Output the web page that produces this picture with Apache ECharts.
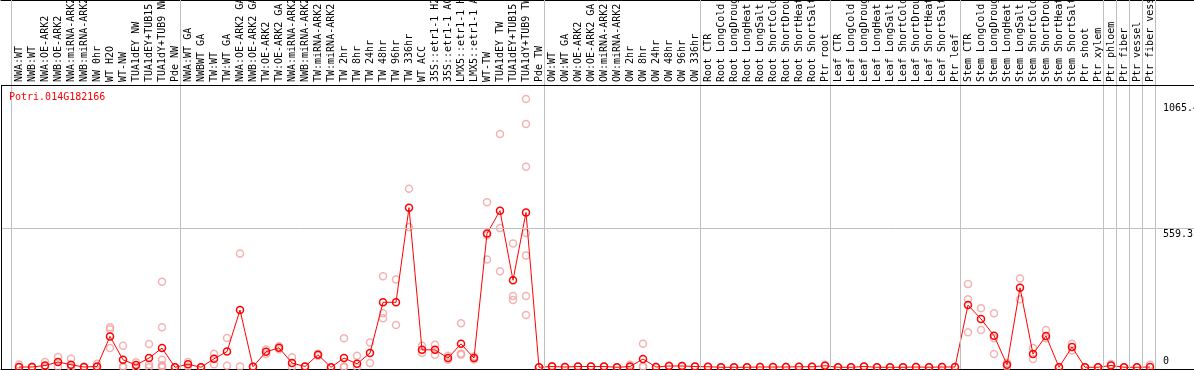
<!DOCTYPE html>
<html><head><meta charset="utf-8">
<script src="https://cdn.jsdelivr.net/npm/echarts@6/dist/echarts.min.js"></script>
<style>html,body{margin:0;padding:0;background:#fff}#c{width:1194px;height:370px}</style>
</head><body><div id="c"></div>
<script>
const geneId = 'Potri.014G182166';

const categories = [
  'NWA:WT','NWB:WT','NWA:OE-ARK2','NWB:OE-ARK2','NWA:miRNA-ARK2','NWB:miRNA-ARK2','NW 0hr','WT H2O','WT-NW',
  'TUA1dEY NW','TUA1dEY+TUB15 NW','TUA1dY+TUB9 NW','Pde NW',
  'NWA:WT GA','NWBWT GA','TW:WT','TW:WT GA','NWA:OE-ARK2 GA','NWB:OE-ARK2 GA','TW:OE-ARK2','TW:OE-ARK2 GA',
  'NWA:miRNA-ARK2 GA','NWB:miRNA-ARK2 GA','TW:miRNA-ARK2','TW:miRNA-ARK2 GA',
  'TW 2hr','TW 8hr','TW 24hr','TW 48hr','TW 96hr','TW 336hr','WT ACC',
  '35S::etr1-1 H2O','35S::etr1-1 ACC','LMX5::etr1-1 H2O','LMX5::etr1-1 ACC',
  'WT-TW','TUA1dEY TW','TUA1dEY+TUB15 TW','TUA1dY+TUB9 TW','Pde TW',
  'OW:WT','OW:WT GA','OW:OE-ARK2','OW:OE-ARK2 GA','OW:miRNA-ARK2','OW:miRNA-ARK2 GA',
  'OW 2hr','OW 8hr','OW 24hr','OW 48hr','OW 96hr','OW 336hr',
  'Root CTR','Root LongCold','Root LongDrought','Root LongHeat','Root LongSalt',
  'Root ShortCold','Root ShortDrought','Root ShortHeat','Root ShortSalt','Ptr root',
  'Leaf CTR','Leaf LongCold','Leaf LongDrought','Leaf LongHeat','Leaf LongSalt',
  'Leaf ShortCold','Leaf ShortDrought','Leaf ShortHeat','Leaf ShortSalt','Ptr leaf',
  'Stem CTR','Stem LongCold','Stem LongDrought','Stem LongHeat','Stem LongSalt',
  'Stem ShortCold','Stem ShortDrought','Stem ShortHeat','Stem ShortSalt','Ptr shoot',
  'Ptr xylem','Ptr phloem','Ptr fiber','Ptr vessel','Ptr fiber vessel'
];

const meanValues = [
  1,1,7,21,10,1,3,124,30,9,37,77,0,
  12,0,34,63,230,2,62,78,17,3,50,0,
  37,14,57,261,261,641,70,70,37,94,37,
  537,629,350,622,0,
  3,1,3,3,3,0,3,33,1,5,5,3,
  2,0,0,0,1,1,1,2,2,6,
  0,0,3,0,0,0,1,0,1,1,
  250,194,127,10,319,53,126,0,81,0,
  0,7,0,0,1
];

const replicates = [
  [11,0],[2,0],[21,0],[41,2],[34,0,0],[2,0],[14,0],[161,153,77],[86,0,4],
  [20,0,0],[93,10,0],[344,161,30,8,4,0],[0],
  [21,3],[0],[54,12],[118,6],[457,3],[2],[71,53],[84,72],
  [40,0],[3],[54,46],[0],
  [117,3,0],[46,0],[99,17],[366,217,197],[353,170],[717,563],[86,57],
  [90,50],[46,30],[177,50,55],[43,31],
  [663,530,433],[937,559,386],[497,286,270],[1078,977,806,539,449,286,210],[0],
  [5],[1],[3],[3],[3],[0],[10,0],[94,3,2],[1],[6],[5],[3],
  [2],[0],[0],[0],[1],[1],[1],[2],[2],[10],
  [0],[0],[3],[0],[0],[0],[1],[0],[1],[1],
  [334,273,141],[237,150],[217,117,53],[17,3],[357,273],[77,33],[150,117],[0],[94,67],[0],
  [0],[13],[0],[0],[10]
];

// index of the last category in each group (-1 = before the first one)
const groupEnds = [-1, 12, 40, 52, 62, 72, 83, 84, 85, 86, 87];

const yGridValues = [559.3];
const yLabelValues = [0, 559.3, 1065];
const yLabelTexts = ['0', '559.3', '1065.4'];

const FONT = 'DejaVu Sans Mono';
const xMin = -18 / 13, xMax = (1194 - 19) / 13;
const yMin = -7, yMax = 1134;
const labelX = categories.length; // y labels sit one step right of the last category

const meanData = meanValues.map((v, i) => [i, v]);
const repData = [];
replicates.forEach((arr, i) => arr.forEach(v => repData.push([i, v])));

const chart = echarts.init(document.getElementById('c'), null, { renderer: 'canvas' });

const yLabelLines = yLabelValues.map((v, k) => ([
  { name: yLabelTexts[k], coord: [labelX, v],
    label: { position: v === 0 ? 'insideStartTop' : 'insideStartBottom' } },
  { coord: [xMax, v] }
]));

chart.setOption({
  animation: false,
  backgroundColor: '#fff',
  title: {
    text: geneId, left: 9, top: 92, padding: 0,
    textStyle: { color: '#ff0000', fontFamily: FONT, fontSize: 10, fontWeight: 'normal' }
  },
  grid: [
    { left: 1, right: 0, top: 85, bottom: 1, containLabel: false, outerBoundsMode: 'none' },
    { left: 1, right: 0, top: 0, bottom: 1, containLabel: false, outerBoundsMode: 'none' }
  ],
  xAxis: [
    {
      gridIndex: 0, type: 'value', min: xMin, max: xMax, position: 'top',
      axisLine: { show: false },
      axisTick: { show: false }, splitLine: { show: false },
      axisLabel: {
        customValues: categories.map((_, i) => i),
        formatter: v => categories[Math.round(v)],
        rotate: 90, margin: 3, hideOverlap: false,
        fontFamily: FONT, fontSize: 10, color: '#000'
      }
    },
    {
      gridIndex: 0, type: 'value', min: xMin, max: xMax, position: 'bottom',
      axisLine: { show: true, onZero: false, lineStyle: { color: '#000', width: 1 } },
      axisTick: { show: false }, splitLine: { show: false }, axisLabel: { show: false }
    },
    {
      gridIndex: 1, type: 'value', min: xMin, max: xMax, position: 'top',
      axisLine: { show: true, onZero: false, lineStyle: { color: '#000', width: 1 } },
      axisTick: { show: false }, splitLine: { show: false }, axisLabel: { show: false }
    }
  ],
  yAxis: [
    {
      gridIndex: 0, type: 'value', min: yMin, max: yMax, position: 'left',
      axisLine: { show: false },
      axisTick: { show: false }, splitLine: { show: false }, axisLabel: { show: false }
    },
    {
      gridIndex: 1, type: 'value', min: 0, max: 1, show: false
    }
  ],
  series: [
    {
      type: 'line', xAxisIndex: 2, yAxisIndex: 1, data: [[0, 0]],
      symbol: 'none', lineStyle: { color: 'rgba(0,0,0,0)' }, silent: true, z: 1,
      markLine: {
        silent: true, symbol: 'none', animation: false,
        lineStyle: { color: '#c0c0c0', width: 1, type: 'solid' },
        label: { show: false },
        data: groupEnds.map(g => ({ xAxis: g + 0.4 }))
      }
    },
    {
      type: 'line', xAxisIndex: 0, yAxisIndex: 0, data: [[0, 0]],
      symbol: 'none', lineStyle: { color: 'rgba(0,0,0,0)' }, silent: true, z: 2,
      markLine: {
        silent: true, symbol: 'none', animation: false,
        lineStyle: { color: '#c0c0c0', width: 1, type: 'solid' },
        label: { show: false },
        data: yGridValues.map(v => ({ yAxis: v }))
      }
    },
    {
      // plot frame: top edge under the labels and left edge
      type: 'line', xAxisIndex: 0, yAxisIndex: 0, data: [[0, 0]],
      symbol: 'none', lineStyle: { color: 'rgba(0,0,0,0)' }, silent: true, z: 5,
      markLine: {
        silent: true, symbol: 'none', animation: false,
        lineStyle: { color: '#000', width: 1, type: 'solid' },
        label: { show: false },
        data: [{ yAxis: yMax }, { xAxis: xMin }]
      }
    },
    {
      type: 'line', xAxisIndex: 0, yAxisIndex: 0, data: [[0, 0]],
      symbol: 'none', lineStyle: { color: 'rgba(0,0,0,0)' }, silent: true, z: 6,
      markLine: {
        silent: true, symbol: 'none', animation: false,
        lineStyle: { color: 'rgba(255,255,255,0)', width: 1, type: 'solid' },
        label: {
          show: true, distance: [0, 1], color: '#000', fontFamily: FONT, fontSize: 10,
          formatter: p => p.name
        },
        data: yLabelLines
      }
    },
    {
      type: 'scatter', xAxisIndex: 0, yAxisIndex: 0, data: repData, z: 3,
      symbol: 'circle', symbolSize: 7,
      itemStyle: { color: 'rgba(0,0,0,0)', borderColor: '#f0a0a0', borderWidth: 1.5 }
    },
    {
      type: 'line', xAxisIndex: 0, yAxisIndex: 0, data: meanData, z: 4,
      symbol: 'circle', symbolSize: 7, showAllSymbol: true,
      lineStyle: { color: '#ff0000', width: 1 },
      itemStyle: { color: 'rgba(0,0,0,0)', borderColor: '#ff0000', borderWidth: 1.5 }
    }
  ]
});
</script></body></html>
